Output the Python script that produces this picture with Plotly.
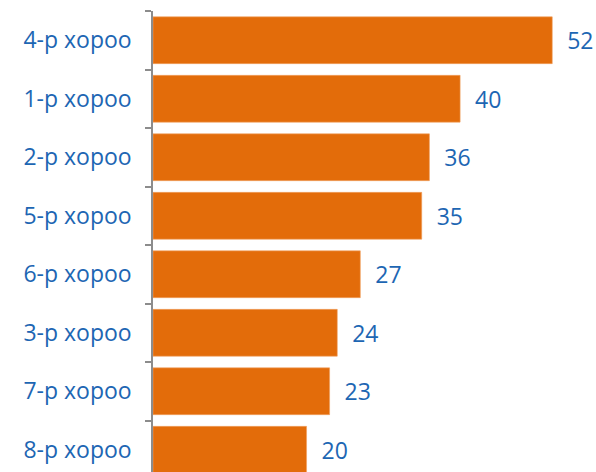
import plotly.graph_objects as go

categories = ["4-р хороо", "1-р хороо", "2-р хороо", "5-р хороо", "6-р хороо", "3-р хороо", "7-р хороо", "8-р хороо"]
values = [52, 40, 36, 35, 27, 24, 23, 20]

# plotly draws the first category at the bottom, so reverse
cats = categories[::-1]
vals = values[::-1]

BAR = "#E36C0A"
TXT = "#1D66B3"
FONT = "Open Sans"

fig = go.Figure(go.Bar(
    x=vals, y=cats, orientation="h",
    marker=dict(color=BAR, line=dict(color="#F0A060", width=0.6)),
    text=["\u00a0\u00a0" + str(v) for v in vals],
    textposition="outside",
    textfont=dict(color=TXT, size=23, family=FONT),
    cliponaxis=False,
))

fig.update_layout(
    width=596, height=472,
    margin=dict(l=153, r=0, t=11, b=0),
    plot_bgcolor="white", paper_bgcolor="white",
    bargap=0.2,
    showlegend=False,
    xaxis=dict(range=[0, 57.7], visible=False),
    yaxis=dict(
        type="category",
        range=[-0.38, 7.5],
        showline=True, linecolor="#8C8C8C", linewidth=1.5,
        ticks="outside", tickson="boundaries", ticklen=6, tickcolor="#8C8C8C", tickwidth=1.5,
        tickfont=dict(color=TXT, size=23, family=FONT),
        ticklabelstandoff=15,
        showgrid=False,
    ),
)

fig.write_html("out.html")
